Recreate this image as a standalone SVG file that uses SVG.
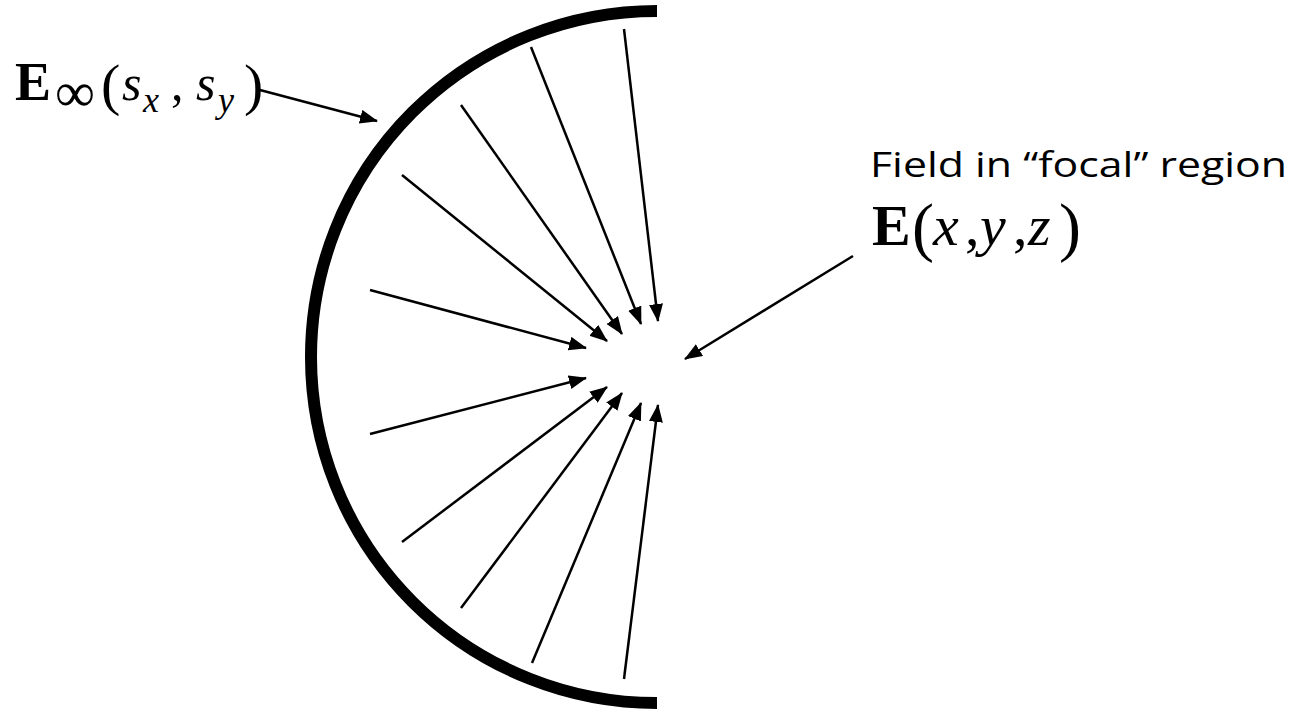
<svg xmlns="http://www.w3.org/2000/svg" width="1293" height="714" viewBox="0 0 1293 714">
<style>
.ray{stroke:#000;stroke-width:2.5;fill:none;marker-end:url(#ah)}
.math{font-family:"Liberation Serif","DejaVu Serif",serif;fill:#000}
.it{font-style:italic}
.label{font-family:"Open Sans","Liberation Sans",sans-serif;fill:#000}
</style>
<defs>
<marker id="ah" markerUnits="userSpaceOnUse" markerWidth="20" markerHeight="16" refX="17" refY="7" orient="auto">
<path d="M0,0 L18,7 L0,14 z" fill="#000"/>
</marker>
</defs>
<rect width="1293" height="714" fill="#fff"/>
<g id="mirror">
<path d="M657,11 A346,346 0 0 0 657,703" fill="none" stroke="#000" stroke-width="12"/>
</g>
<g id="connectors">
<line class="ray" x1="624" y1="29" x2="658" y2="321"/>
<line class="ray" x1="531" y1="47" x2="641" y2="324"/>
<line class="ray" x1="461" y1="105" x2="622" y2="334"/>
<line class="ray" x1="402" y1="175" x2="607" y2="341"/>
<line class="ray" x1="370" y1="290" x2="586" y2="348"/>
<line class="ray" x1="370" y1="434" x2="586" y2="378"/>
<line class="ray" x1="402" y1="542" x2="607" y2="387"/>
<line class="ray" x1="461" y1="608" x2="622" y2="393"/>
<line class="ray" x1="532" y1="663" x2="641" y2="403"/>
<line class="ray" x1="624" y1="679" x2="658" y2="405"/>
<line class="ray" x1="260" y1="90" x2="377" y2="121"/>
<line class="ray" x1="853" y1="256" x2="685" y2="359"/>
</g>
<g id="label-far-field">
<text class="math" font-size="50"><tspan x="15" y="100" font-weight="bold" font-size="54">E</tspan><tspan x="55" y="111" font-size="56">∞</tspan><tspan x="101" y="104" font-size="58">(</tspan><tspan class="it" x="122" y="100">s</tspan><tspan class="it" x="143" y="112" font-size="36">x</tspan><tspan x="171" y="100">,</tspan><tspan class="it" x="196" y="100">s</tspan><tspan class="it" x="218" y="112" font-size="36">y</tspan><tspan x="244" y="104" font-size="58">)</tspan></text>
</g>
<g id="label-focal">
<text class="label" x="870" y="177" font-size="35" textLength="417" lengthAdjust="spacingAndGlyphs">Field in “focal” region</text>
<text class="math" font-size="58"><tspan x="872" y="245" font-weight="bold">E</tspan><tspan x="912" y="249" font-size="66">(</tspan><tspan class="it" x="933" y="245">x</tspan><tspan x="965" y="245">,</tspan><tspan class="it" x="980" y="245">y</tspan><tspan x="1013" y="245">,</tspan><tspan class="it" x="1028" y="245">z</tspan><tspan x="1059" y="249" font-size="66">)</tspan></text>
</g>
</svg>
